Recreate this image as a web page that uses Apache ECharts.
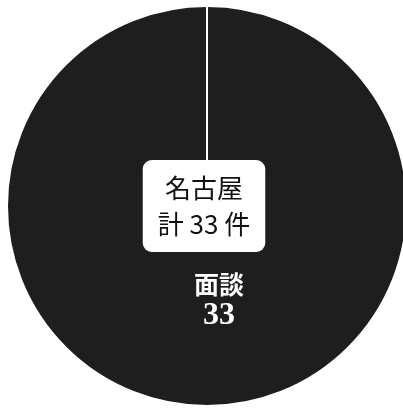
<!DOCTYPE html>
<html>
<head>
<meta charset="utf-8">
<script src="https://cdn.jsdelivr.net/npm/echarts@6/dist/echarts.min.js"></script>
<style>
  html, body { margin: 0; padding: 0; background: #fff; }
  #chart { width: 403px; height: 412px; }
</style>
</head>
<body>
<div id="chart"></div>
<script>
// 名古屋 面談件数 円グラフ
const office = '名古屋'
const total = 33
const categories = ['面談', 'その他']
const values = [33, 0]

const chart = echarts.init(document.getElementById('chart'))

const option = {
  animation: false,
  title: {
    text: office + '\n計 ' + total + ' 件',
    left: 189,
    top: 160,
    textAlign: 'center',
    padding: [10, 15],
    backgroundColor: '#fff',
    borderRadius: 9,
    textStyle: {
      fontFamily: 'Noto Sans CJK JP',
      fontSize: 26,
      fontWeight: 'normal',
      lineHeight: 36,
      color: '#111'
    }
  },
  series: [{
    type: 'pie',
    center: [207, 206],
    radius: 200,
    startAngle: 90,
    clockwise: true,
    silent: true,
    data: categories.map((name, i) => ({
      name: name,
      value: values[i],
      label: { show: values[i] > 0 }
    })),
    itemStyle: {
      color: '#1e1e1e',
      borderColor: '#fff',
      borderWidth: 2
    },
    label: {
      position: 'inside',
      formatter: '{n|{b}}\n{v|{c}}',
      offset: [12, -9],
      color: '#fff',
      rich: {
        n: {
          fontFamily: 'Noto Sans CJK JP',
          fontSize: 25,
          fontWeight: 'bold',
          color: '#fff',
          lineHeight: 32
        },
        v: {
          fontFamily: 'Liberation Serif',
          fontSize: 32,
          fontWeight: 'bold',
          color: '#fff',
          lineHeight: 32
        }
      }
    },
    labelLine: { show: false }
  }]
}

chart.setOption(option)
</script>
</body>
</html>
